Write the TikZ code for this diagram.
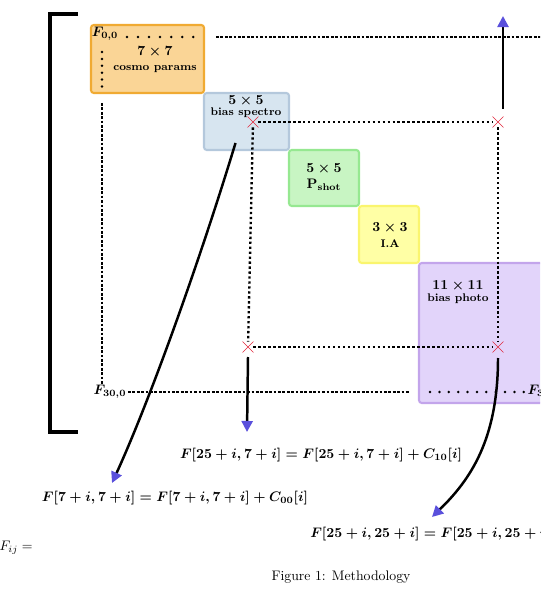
\documentclass[tikz,border=0pt]{standalone}
\usepackage{amsmath,amssymb,bm}
\usepackage{xcolor}
\usepackage{tikz}
\usetikzlibrary{arrows.meta,calc,positioning,shapes.misc}
\definecolor{ccosmo}{RGB}{250,213,150}
\definecolor{ccosmod}{RGB}{240,170,50}
\definecolor{cspec}{RGB}{215,229,240}
\definecolor{cspecd}{RGB}{180,200,220}
\definecolor{cshot}{RGB}{200,245,195}
\definecolor{cshotd}{RGB}{150,232,145}
\definecolor{cia}{RGB}{255,255,165}
\definecolor{ciad}{RGB}{250,245,110}
\definecolor{cphoto}{RGB}{226,212,250}
\definecolor{cphotod}{RGB}{195,165,235}
\definecolor{cmark}{RGB}{225,40,60}
\definecolor{ctip}{RGB}{90,80,220}
\newdimen\pxu \pxu=0.725pt
\tikzset{
  block/.style={rectangle,rounded corners=2pt,line width=1.5pt,inner sep=0pt,
    outer sep=0pt,anchor=north west},
  blocklab/.style={align=center,inner sep=0pt,font=\bfseries\boldmath},
  corner/.style={inner sep=1pt,font=\boldmath},
  xmark/.style={cross out,draw=cmark,thin,minimum size=7.5pt,inner sep=0pt},
  % dotted lines of the matrix
  densedot/.style={line width=1.8pt,dash pattern=on 2pt off 1.2pt},
  crossdot/.style={line width=1.7pt,dash pattern=on 1.7pt off 1.9pt},
  loosedot/.style={line width=2pt,line cap=round,dash pattern=on 0pt off #1},
  loosedot/.default=6.8pt,
  arr/.style={-{Triangle[length=8pt,width=8pt,color=ctip]},line width=1.8pt},
  eqn/.style={inner sep=0pt,font=\boldmath}
}
\begin{document}
\begin{tikzpicture}[x=\pxu,y=-\pxu,node distance=0pt]
  \useasboundingbox (0,0) rectangle (540,598);
  \clip (0,0) rectangle (540,598);
  \draw[line width=2.2pt] (78,14) -- (50,14) -- (50,432) -- (78,432);
  % blocks on the diagonal
  \node[block,fill=ccosmo,draw=ccosmod,minimum width=113\pxu,minimum height=68\pxu] (cosmo) at (91,25) {};
  \node[block,fill=cspec,draw=cspecd,minimum width=85\pxu,minimum height=57\pxu,below right=of cosmo] (spectro) {};
  \node[block,fill=cshot,draw=cshotd,minimum width=70\pxu,minimum height=56\pxu,below right=of spectro] (pshot) {};
  \node[block,fill=cia,draw=ciad,minimum width=60\pxu,minimum height=57\pxu,below right=of pshot] (ia) {};
  \node[block,fill=cphoto,draw=cphotod,minimum width=141\pxu,minimum height=140\pxu,below right=of ia] (photo) {};
  \node[blocklab] (cosmolab) at (155,60) {$7\times7$\\[-1pt]{\footnotesize cosmo params}};
  \node[blocklab] (spectrolab) at (246,107) {$5\times5$\\[-4pt]{\footnotesize bias spectro}};
  \node[blocklab] (pshotlab) at (324,177) {$5\times5$\\$\mathbf{P_{shot}}$};
  \node[blocklab] (ialab) at (390,235) {$3\times3$\\{\footnotesize I.A}};
  \node[blocklab] (photolab) at (458,292) {$11\times11$\\[-3pt]{\footnotesize bias photo}};
  % corners of the matrix
  \node[corner] (f00) at (105,34) {$F_{0,0}$};
  \node[corner] (f300) at (110,392) {$F_{30,0}$};
  \node[corner,anchor=west] (f3030) at (526,392) {$F_{30,30}$};
  \coordinate (dotA0) at (127,37);
  \coordinate (dotA) at (198,37);
  \coordinate (dotB0) at (102,52);
  \coordinate (dotB) at (102,89);
  \coordinate (topL) at (216,37);
  \coordinate (topR) at (560,37);
  \coordinate (leftT) at (102,103);
  \coordinate (botM) at (410,392);
  \coordinate (botP) at (430,392);
  \draw[loosedot=8pt] (dotA0) -- (dotA);
  \draw[loosedot=5pt] (dotB0) -- (dotB);
  \draw[densedot] (topL) -- (topR);
  \draw[densedot] (leftT) -- (leftT |- f300.north);
  \draw[densedot] (f300.east) -- (botM);
  \draw[loosedot] (botP) -- (f3030.west);
  % cross terms
  \node[xmark] (x1) at (253,122) {};
  \node[xmark] (x2) at (498,122) {};
  \node[xmark] (x3) at (248,347) {};
  \node[xmark] (x4) at (498,347) {};
  \draw[crossdot] (x1) -- (x2);
  \draw[crossdot] (x1) -- (x3);
  \draw[crossdot] (x3) -- (x4);
  \draw[crossdot] (x2) -- (x4);
  % update rules
  \node[eqn] (eqA) at (321,455) {$F[25+i,7+i]=F[25+i,7+i]+C_{10}[i]$};
  \node[eqn] (eqB) at (175,498) {$F[7+i,7+i]=F[7+i,7+i]+C_{00}[i]$};
  \node[eqn,anchor=west] (eqC) at (310,534) {$F[25+i,25+i]=F[25+i,25+i]+C_{11}[i]$};
  \node[inner sep=0pt,anchor=east] (fij) at (33,548) {$F_{ij} =$};
  \node[inner sep=0pt] (caption) at (341,577) {Figure 1: Methodology};
  \coordinate (upTip) at (503,16);
  \coordinate (downTip) at (247,432);
  \coordinate (lTip) at (112,483);
  \coordinate (rTip) at (432,517);
  \draw[arr] (x2) ++(5,-13) -- (upTip);
  \draw[arr] (x3) ++(0,10) -- (downTip);
  \draw[arr] ($(spectro.south)+(-11,-7)$) .. controls (200,260) and (150,400) .. (lTip);
  \draw[arr] (x4) ++(0,11) .. controls (498,440) and (470,480) .. (rTip);
\end{tikzpicture}
\end{document}
